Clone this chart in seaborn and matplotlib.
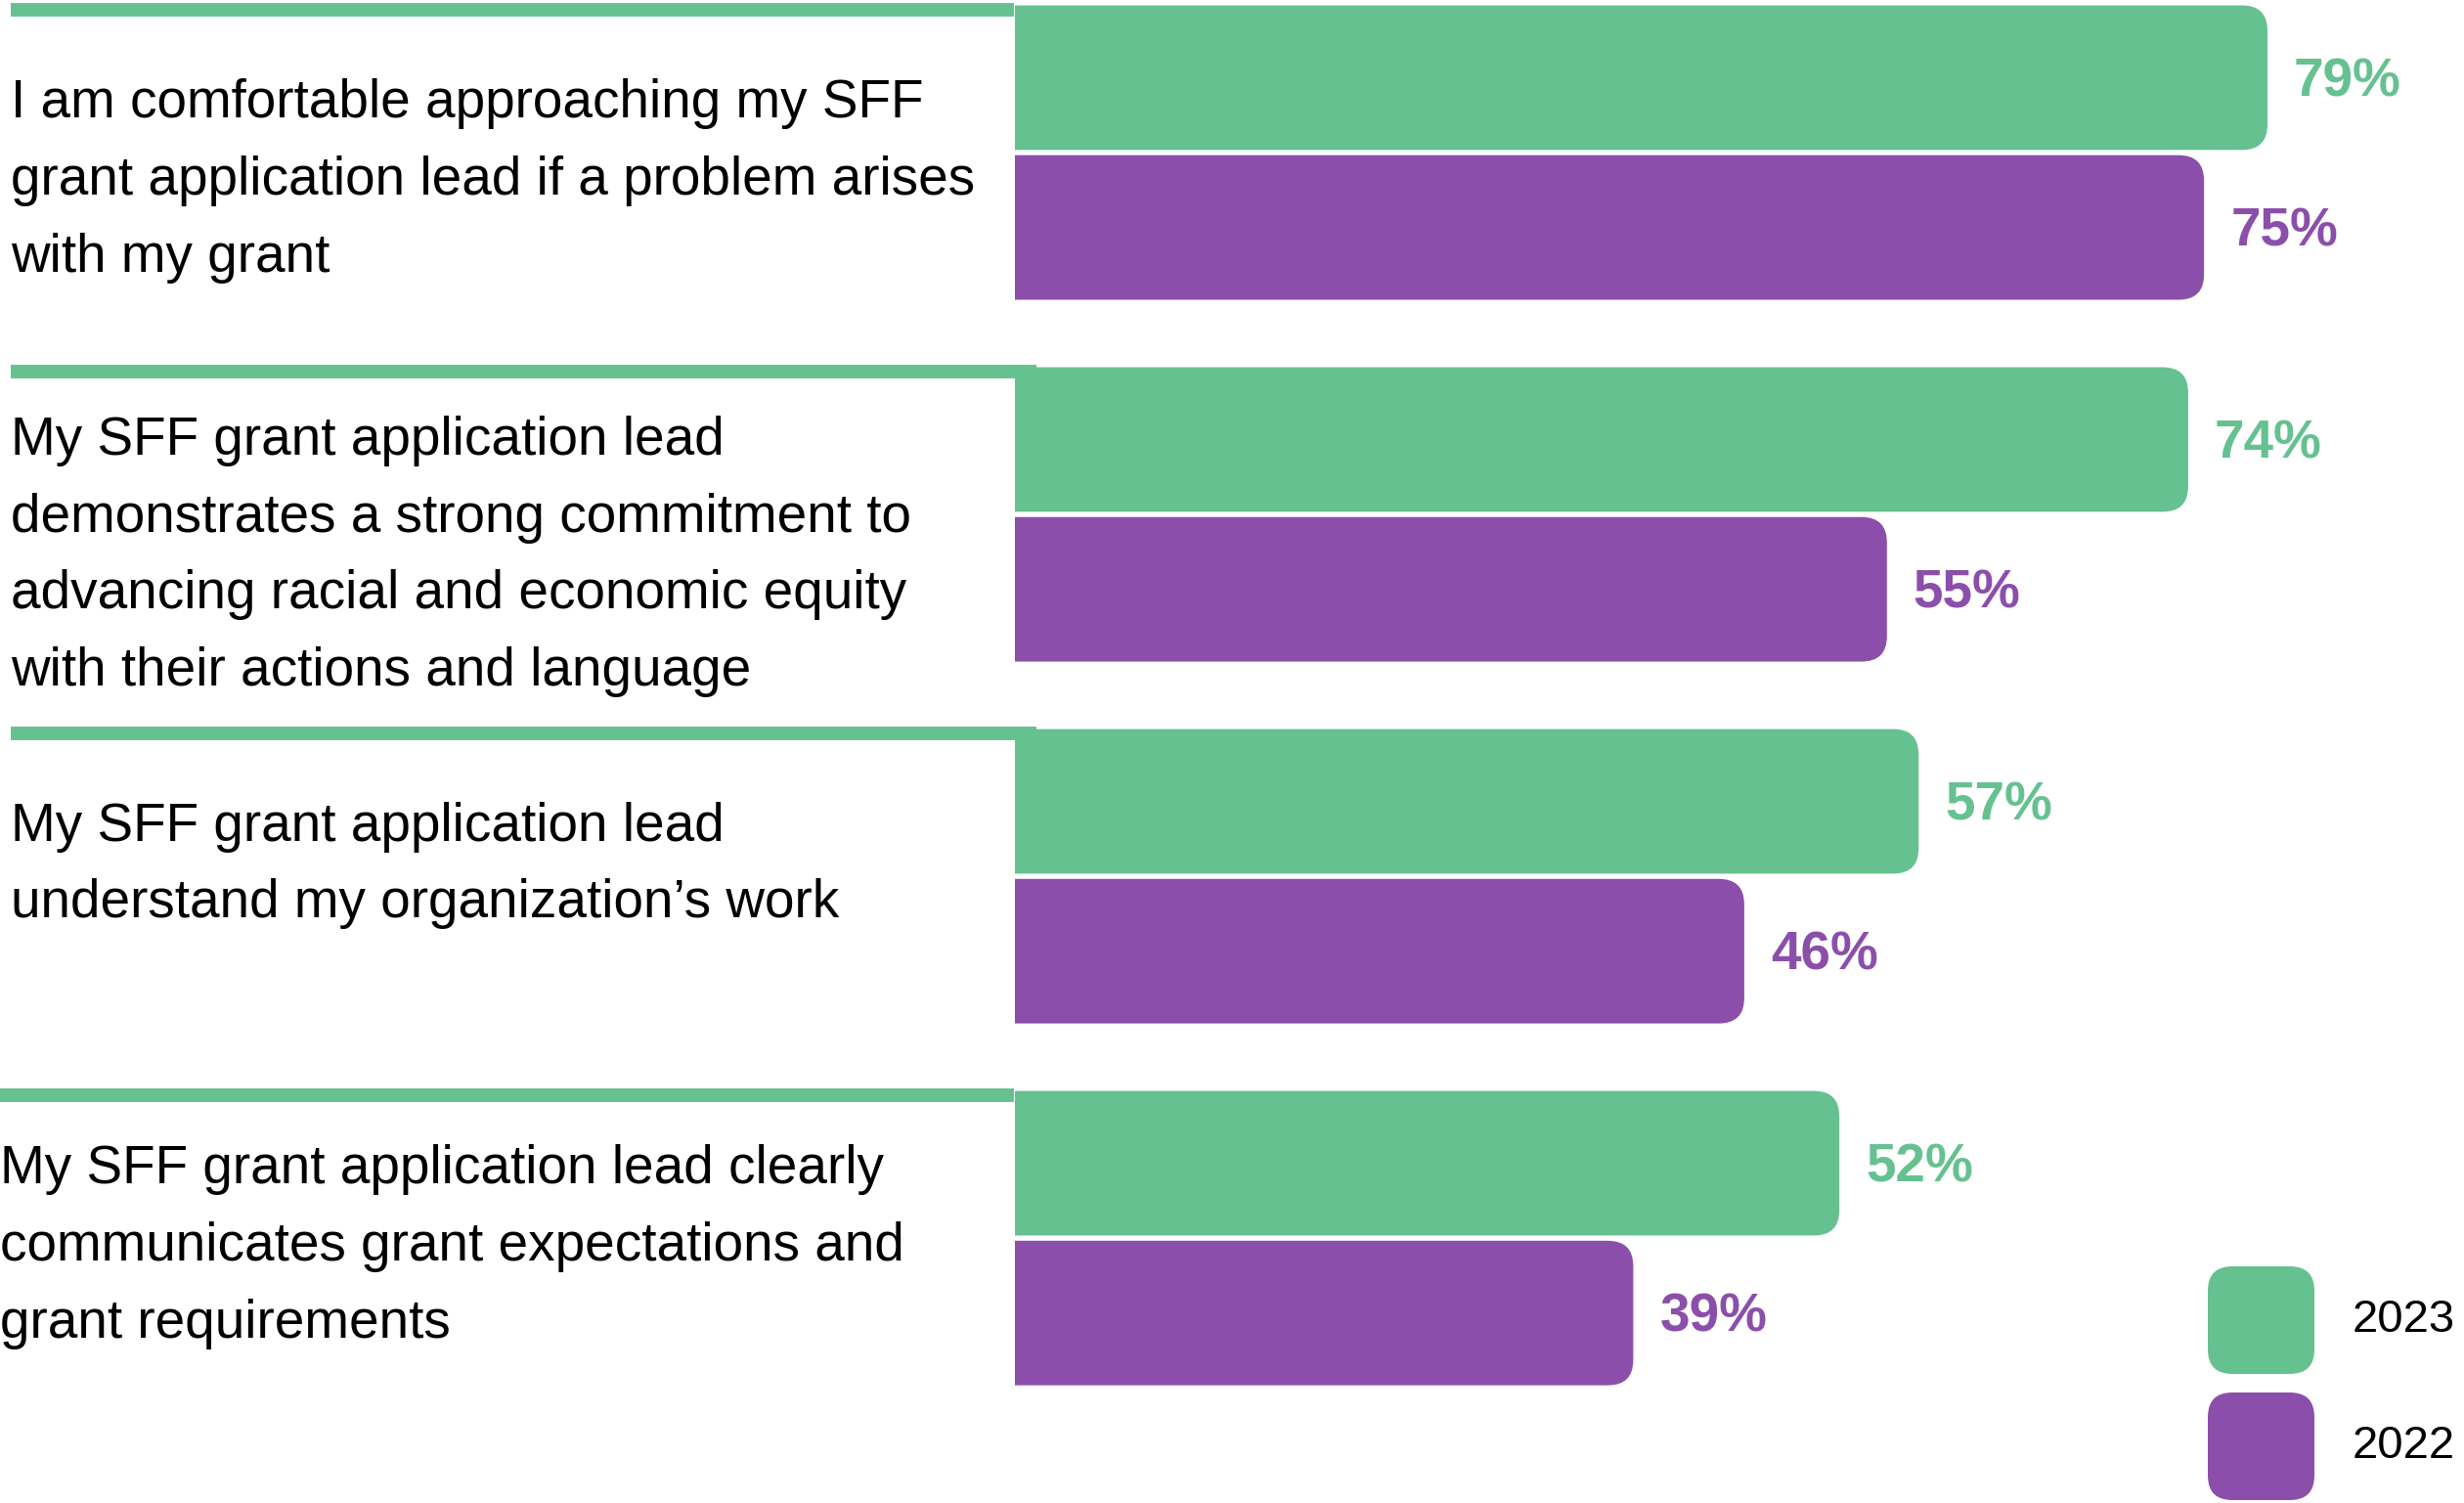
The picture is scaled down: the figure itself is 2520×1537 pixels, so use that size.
"""
Grantee perception of SFF grant application leads, 2023 vs 2022
"""

import matplotlib

matplotlib.use("Agg")
import matplotlib.pyplot as plt
import matplotlib.transforms as mtransforms
import pandas as pd
import seaborn as sns
from matplotlib.patches import FancyBboxPatch

statements = [
    "I am comfortable approaching my SFF\ngrant application lead if a problem arises\nwith my grant",
    "My SFF grant application lead\ndemonstrates a strong commitment to\nadvancing racial and economic equity\nwith their actions and language",
    "My SFF grant application lead\nunderstand my organization\u2019s work",
    "My SFF grant application lead clearly\ncommunicates grant expectations and\ngrant requirements",
]
years = ["2023", "2022"]
pct_2023 = [79, 74, 57, 52]
pct_2022 = [75, 55, 46, 39]
colors = ["#66C191", "#8B4FAB"]

df = pd.DataFrame(
    {
        "statement": statements * 2,
        "year": [years[0]] * 4 + [years[1]] * 4,
        "value": pct_2023 + pct_2022,
    }
)

sns.set_style("white")
plt.rcParams["font.family"] = ["Liberation Sans", "DejaVu Sans"]

W, H, DPI = 2520, 1537, 100
fig = plt.figure(figsize=(W / DPI, H / DPI), dpi=DPI)
ax_left = 1038 / W
ax = fig.add_axes([ax_left, 0, 1 - ax_left, 1])

sns.barplot(
    data=df,
    x="value",
    y="statement",
    hue="year",
    hue_order=years,
    palette=colors,
    orient="h",
    width=0.828,
    gap=0.035,
    saturation=1,
    legend=False,
    ax=ax,
)

ax.set_xlim(0, (W - 1038) / 16.215)
ax.set_ylim(3.732, -0.4216)
ax.axis("off")

# rounded right ends: radius in pixels turned into data units
px_per_x = ax.bbox.width / (ax.get_xlim()[1] - ax.get_xlim()[0])
px_per_y = ax.bbox.height / abs(ax.get_ylim()[0] - ax.get_ylim()[1])
r_px = 26
rx = r_px / px_per_x
aspect = (r_px / px_per_y) / rx

bars = list(ax.patches)
for p in bars:
    x, y, w, h = p.get_x(), p.get_y(), p.get_width(), p.get_height()
    fc = p.get_facecolor()
    p.remove()
    ax.add_patch(
        FancyBboxPatch(
            (x - rx, y),
            w + rx,
            h,
            boxstyle=f"round,pad=0,rounding_size={rx}",
            mutation_aspect=aspect,
            facecolor=fc,
            edgecolor="none",
            zorder=2,
        )
    )
    ax.annotate(
        f"{w:.0f}%",
        xy=(x + w, y + h / 2),
        xytext=(27, -5),
        textcoords="offset pixels",
        ha="left",
        va="center",
        fontsize=39.5,
        fontweight="bold",
        color=fc,
    )

# statement labels with the green rule above each group
trans = mtransforms.blended_transform_factory(fig.transFigure, ax.transData)
line_x0 = [11, 11, 11, 0]
line_x1 = [1037, 1060, 1060, 1037]
text_x = [11, 11, 11, 0]
text_dy = [0.078, 0.116, -0.030, 0.024]
group_top = 0.828 / 2
for i, label in enumerate(statements):
    ly = i - group_top + 0.019
    ax.plot(
        [line_x0[i] / W, line_x1[i] / W],
        [ly, ly],
        transform=trans,
        color=colors[0],
        lw=10,
        solid_capstyle="butt",
        clip_on=False,
        zorder=1,
    )
    ax.text(
        text_x[i] / W,
        i + text_dy[i],
        label,
        transform=trans,
        ha="left",
        va="center",
        fontsize=39.5,
        linespacing=1.67,
        color="black",
        clip_on=False,
    )

# legend with rounded swatches
for k, (yr, c) in enumerate(zip(years, colors)):
    top = 1295 + k * 129
    fig.add_artist(
        FancyBboxPatch(
            (2258 / DPI, (H - top - 110) / DPI),
            109 / DPI,
            110 / DPI,
            boxstyle="round,pad=0,rounding_size=0.25",
            transform=fig.dpi_scale_trans,
            facecolor=c,
            edgecolor="none",
        )
    )
    fig.text(
        2406 / W,
        1 - (top + 55) / H,
        yr,
        ha="left",
        va="center",
        fontsize=34,
        color="black",
    )

fig.savefig("out.png", dpi=DPI)
